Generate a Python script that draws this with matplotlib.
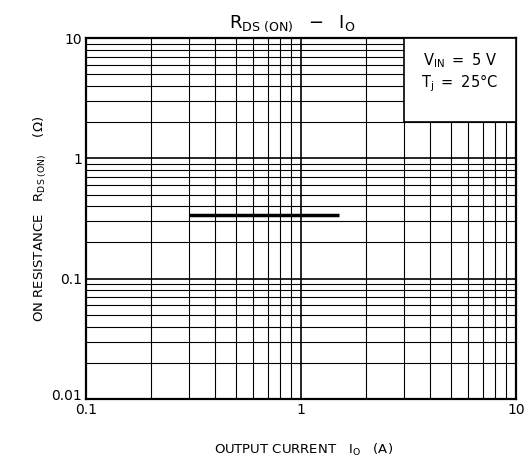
import matplotlib
matplotlib.use("Agg")
import matplotlib.pyplot as plt
import matplotlib.transforms as mtransforms
from matplotlib.patches import Rectangle
from matplotlib.ticker import FixedLocator, FixedFormatter, LogLocator, NullFormatter

# data
io_current = [0.3, 1.5]
rds_on = [0.34, 0.34]
x_ticks = [0.1, 1, 10]
x_tick_labels = ["0.1", "1", "10"]
y_ticks = [0.01, 0.1, 1, 10]
y_tick_labels = ["0.01", "0.1", "1", "10"]
legend_lines = [r"$\mathregular{V_{IN}\ =\ 5\ V}$", r"$\mathregular{T_j\ =\ 25°C}$"]

plt.rcParams['font.family'] = ['DejaVu Sans']
plt.rcParams['mathtext.fontset'] = 'dejavusans'

fig = plt.figure(figsize=(5.32, 4.63), dpi=100)
ax = fig.add_axes([86/532, 64/463, 430/532, 361/463])
ax.set_xscale('log')
ax.set_yscale('log')
ax.set_xlim(0.1, 10)
ax.set_ylim(0.01, 10)

ax.xaxis.set_major_locator(FixedLocator(x_ticks))
ax.xaxis.set_major_formatter(FixedFormatter(x_tick_labels))
ax.yaxis.set_major_locator(FixedLocator(y_ticks))
ax.yaxis.set_major_formatter(FixedFormatter(y_tick_labels))
ax.xaxis.set_minor_locator(LogLocator(base=10, subs=range(2, 10)))
ax.yaxis.set_minor_locator(LogLocator(base=10, subs=range(2, 10)))
ax.xaxis.set_minor_formatter(NullFormatter())
ax.yaxis.set_minor_formatter(NullFormatter())
ax.tick_params(which='both', length=0, labelsize=10, colors='black', pad=3)
ax.tick_params(axis='x', pad=3)

ax.grid(which='major', color='black', lw=1.2, zorder=1)
ax.grid(which='minor', color='black', lw=0.8, zorder=1)
ax.set_axisbelow(True)
for s in ax.spines.values():
    s.set_linewidth(1.6)

ax.plot(io_current, rds_on, color='black', lw=2.5, zorder=3, solid_capstyle='butt')

box = Rectangle((3, 2), 7, 8, facecolor='white', edgecolor='black', lw=1.2, zorder=4)
ax.add_patch(box)
ax.text(0.87, 0.937, legend_lines[0], transform=ax.transAxes, ha='center', va='center', fontsize=10.5, zorder=5)
ax.text(0.87, 0.875, legend_lines[1], transform=ax.transAxes, ha='center', va='center', fontsize=10.5, zorder=5)

ax.set_title(r"$\mathregular{R_{DS\ (ON)}\ \ -\ \ I_O}$", fontsize=13, pad=7, x=0.48)
ax.set_xlabel(r"$\mathregular{OUTPUT\ CURRENT\ \ \ I_O\ \ \ (A)}$", fontsize=9.5)
ax.set_ylabel(r"$\mathregular{ON\ RESISTANCE\ \ \ R_{DS\ (ON)}\ \ \ \ (\Omega)}$", fontsize=9.5)
ax.xaxis.set_label_coords(0.505, -0.12)
ax.yaxis.set_label_coords(-0.085, 0.5)

# lift the lowest y label so it sits above the corner, as in the reference
fig.canvas.draw()
lbl = ax.yaxis.get_majorticklabels()[0]
lbl.set_transform(lbl.get_transform() + mtransforms.ScaledTranslation(0, 5/100, fig.dpi_scale_trans))

fig.savefig("out.png", dpi=100)
